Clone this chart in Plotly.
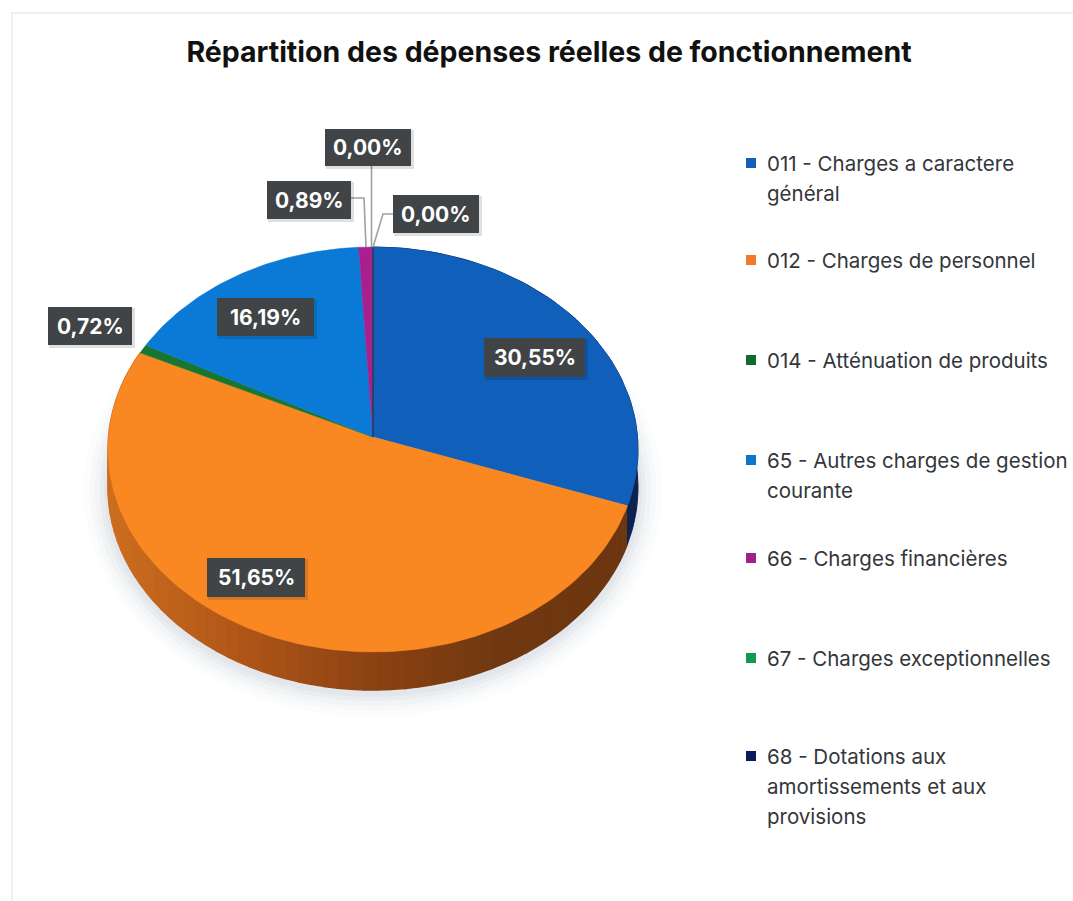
import numpy as np
import plotly.graph_objects as go

# ---- data ----
title = "Répartition des dépenses réelles de fonctionnement"
categories = ["011", "012", "014", "65", "66", "67", "68"]
shares = [30.55, 51.65, 0.72, 16.19, 0.89, 0.00, 0.00]
legend_lines = [
    ["011 - Charges a caractere", "général"],
    ["012 - Charges de personnel"],
    ["014 - Atténuation de produits"],
    ["65 - Autres charges de gestion", "courante"],
    ["66 - Charges financières"],
    ["67 - Charges exceptionnelles"],
    ["68 - Dotations aux", "amortissements et aux", "provisions"],
]

# ---- style ----
top_colors = ["#0F5FBB", "#FA8822", "#17762F", "#0A7AD6", "#A81F8E", "#0E9A50", "#0A1A5A"]
legend_colors = ["#1460B8", "#F07A28", "#116B2E", "#0A78C8", "#A0208A", "#109A50", "#0A1A5A"]
BLUE_WALL = "#0C2350"
WALL_STOPS = [(0.0, (204, 110, 30)), (0.25, (176, 86, 24)), (0.5, (140, 66, 18)), (0.75, (112, 56, 16)), (1.0, (108, 54, 16))]
label_boxes = [(484, 338, 585, 377), (207, 558, 305, 597), (48, 307, 132, 345),
               (217, 298, 314, 336), (267, 181, 351, 219), (393, 195, 479, 233),
               (325, 129, 411, 166)]
leaders = {4: [(351, 198), (364, 198), (366, 247)],
           5: [(393, 214), (383, 214), (373, 247)],
           6: [(371.5, 166), (371.5, 247)]}
legend_rows = [163, 260, 360, 460, 558, 658, 756]
LINE_GAP = 30

# ---- pie projection: an ellipse seen in perspective, with the apex above its centre ----
CX, CY, A, B = 373.0, 449.5, 265.0, 202.5
AX, AY = 373.0, 437.0
KX, KY = 265.0, 197.0
DEPTH = 38.0


def rim(frac):
    """Point of the top rim for a cumulative share (0..100), clockwise from the top."""
    th = np.asarray(frac) / 100 * 2 * np.pi
    dx, dy = KX * np.sin(th), -KY * np.cos(th)
    ox, oy = AX - CX, AY - CY
    a = (dx / A) ** 2 + (dy / B) ** 2
    b = 2 * (ox * dx / A ** 2 + oy * dy / B ** 2)
    c = (ox / A) ** 2 + (oy / B) ** 2 - 1
    s = (-b + np.sqrt(b ** 2 - 4 * a * c)) / (2 * a)
    return AX + s * dx, AY + s * dy


def wall_color(u):
    u = float(np.clip(u, 0, 1))
    for (u0, c0), (u1, c1) in zip(WALL_STOPS, WALL_STOPS[1:]):
        if u <= u1:
            w = (u - u0) / (u1 - u0)
            return "rgb(" + ",".join(str(int(round(p + (q - p) * w))) for p, q in zip(c0, c1)) + ")"
    return "rgb(108,54,16)"


cum = np.concatenate([[0], np.cumsum(shares)])
fig = go.Figure()

# soft shadow under the pie
for grow, op in [(24, 0.02), (18, 0.025), (13, 0.03), (8, 0.035), (4, 0.04)]:
    t = np.linspace(0, 2 * np.pi, 200)
    fig.add_trace(go.Scatter(x=CX + (A + grow) * np.cos(t), y=CY + DEPTH + 3 + (B + grow) * np.sin(t),
                             mode="lines", fill="toself", line_width=0,
                             fillcolor=f"rgba(70,80,115,{op})", hoverinfo="skip", showlegend=False))

# extruded wall of the orange slice, shaded from left to right, and of the blue slice
BAND_COUNT = 70
edges = np.linspace(cum[1], cum[2], BAND_COUNT + 1)
for i in range(BAND_COUNT):
    f = np.linspace(edges[i], edges[i + 1], 4)
    x, y = rim(f)
    col = wall_color((x.mean() - 110) / 520)
    fig.add_trace(go.Scatter(x=np.r_[x, x[::-1]], y=np.r_[y, (y + DEPTH)[::-1]], mode="lines", fill="toself",
                             line=dict(color=col, width=1.5), fillcolor=col, hoverinfo="skip", showlegend=False))
f = np.linspace(cum[0], cum[1], 60)
x, y = rim(f)
fig.add_trace(go.Scatter(x=np.r_[x, x[::-1]], y=np.r_[y, (y + DEPTH)[::-1]], mode="lines", fill="toself",
                         line=dict(color=BLUE_WALL, width=1), fillcolor=BLUE_WALL,
                         hoverinfo="skip", showlegend=False))

# top faces
for i, cat in enumerate(categories):
    n = max(2, int(shares[i] * 3) + 2)
    x, y = rim(np.linspace(cum[i], cum[i + 1], n))
    fig.add_trace(go.Scatter(x=np.r_[AX, x, AX], y=np.r_[AY, y, AY], mode="lines", fill="toself",
                             line=dict(color=top_colors[i], width=0.5), fillcolor=top_colors[i],
                             name=cat, hoverinfo="name", showlegend=False))

shapes = [dict(type="path", path="M12,901 L12,13 L1073,13", line=dict(color="#EFEFEF", width=2), layer="below")]
annotations = []

# leader lines
for pts in leaders.values():
    fig.add_trace(go.Scatter(x=[p[0] for p in pts], y=[p[1] for p in pts], mode="lines",
                             line=dict(color="#A0A0A0", width=1.6), hoverinfo="skip", showlegend=False))

# value labels
for share, (x0, y0, x1, y1) in zip(shares, label_boxes):
    shapes.append(dict(type="rect", x0=x0 + 1, y0=y0 + 1, x1=x1 + 3, y1=y1 + 3, line_width=0,
                       fillcolor="rgba(0,0,0,0.12)", layer="above"))
    shapes.append(dict(type="rect", x0=x0, y0=y0, x1=x1, y1=y1, line_width=0,
                       fillcolor="#404446", layer="above"))
    annotations.append(dict(x=(x0 + x1) / 2, y=(y0 + y1) / 2, xref="x", yref="y", showarrow=False,
                            text=f"<b>{share:.2f}%</b>".replace(".", ","),
                            font=dict(family="Inter", size=21, color="white")))

# legend
for lines, row in zip(legend_lines, legend_rows):
    for k, line in enumerate(lines):
        annotations.append(dict(x=767, y=row + k * LINE_GAP, xref="x", yref="y", showarrow=False,
                                xanchor="left", xshift=-2, text=line,
                                font=dict(family="Inter", size=20.5, color="#33363A")))
fig.add_trace(go.Scatter(x=[751] * len(legend_rows), y=legend_rows, mode="markers",
                         marker=dict(symbol="square", size=10, color=legend_colors),
                         hoverinfo="skip", showlegend=False))

fig.update_layout(
    width=1073, height=901, margin=dict(l=0, r=0, t=0, b=0), autosize=False,
    paper_bgcolor="white", plot_bgcolor="white", showlegend=False,
    title=dict(text=f"<b>{title}</b>", x=549 / 1073, xanchor="center", y=1 - 52 / 901, yanchor="middle",
               font=dict(family="Inter", size=28.5, color="#111111")),
    xaxis=dict(range=[0, 1073], visible=False, fixedrange=True),
    yaxis=dict(range=[901, 0], visible=False, fixedrange=True),
    shapes=shapes, annotations=annotations,
)
fig.write_html("out.html", config=dict(displayModeBar=False),
               post_script="document.body.style.margin='0';document.body.style.overflow='hidden';")
